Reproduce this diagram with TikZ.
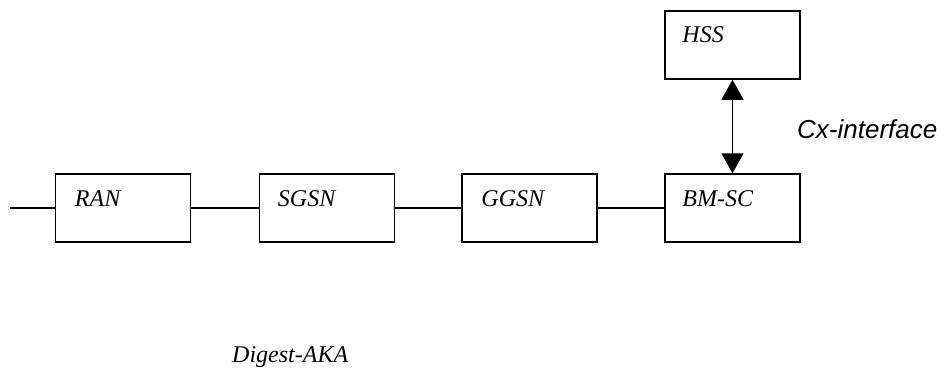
\documentclass[tikz,border=0pt]{standalone}
\usepackage{fontspec}
\setmainfont{Liberation Serif}
\newfontfamily\cxfont{Liberation Sans}
\usetikzlibrary{arrows.meta,calc}
\begin{document}
\begin{tikzpicture}[x=1pt,y=-1pt,
  netbox/.style={draw,line width=1.5pt,minimum width=135pt,minimum height=68pt,inner sep=0pt},
  boxlabel/.style={anchor=base west,inner sep=0pt,font=\fontsize{24}{28}\selectfont\itshape},
  link/.style={line width=1.5pt}]
\useasboundingbox (0,0) rectangle (948,369);
\node[netbox] (ran)  at (123,208) {};
\node[netbox] (sgsn) at (327,208) {};
\node[netbox] (ggsn) at (529.5,208) {};
\node[netbox] (bmsc) at (732.5,208) {};
\node[netbox] (hss)  at (732.5,45) {};
\node[boxlabel] (ranl)  at ($(ran.north west)+(20,33)$) {RAN};
\node[boxlabel] (sgsnl) at ($(sgsn.north west)+(19,33)$) {SGSN};
\node[boxlabel] (ggsnl) at ($(ggsn.north west)+(20,33)$) {GGSN};
\node[boxlabel] (bmscl) at ($(bmsc.north west)+(18,33)$) {BM-SC};
\node[boxlabel] (hssl)  at ($(hss.north west)+(18,32)$) {HSS};
\coordinate (lend) at (10,208);
\draw[link] (lend) -- (ran.west);
\draw[link] (ran.east) -- (sgsn.west);
\draw[link] (sgsn.east) -- (ggsn.west);
\draw[link] (ggsn.east) -- (bmsc.west);
\draw[link,{Triangle[length=20pt,width=22pt]}-{Triangle[length=20pt,width=22pt]}] (hss.south) -- (bmsc.north);
\node[anchor=base west,inner sep=0pt,font=\cxfont\fontsize{26}{30}\selectfont\itshape] (cx) at (797,138) {Cx-interface};
\node[boxlabel] (digest) at (232,362) {Digest-AKA};
\end{tikzpicture}
\end{document}
